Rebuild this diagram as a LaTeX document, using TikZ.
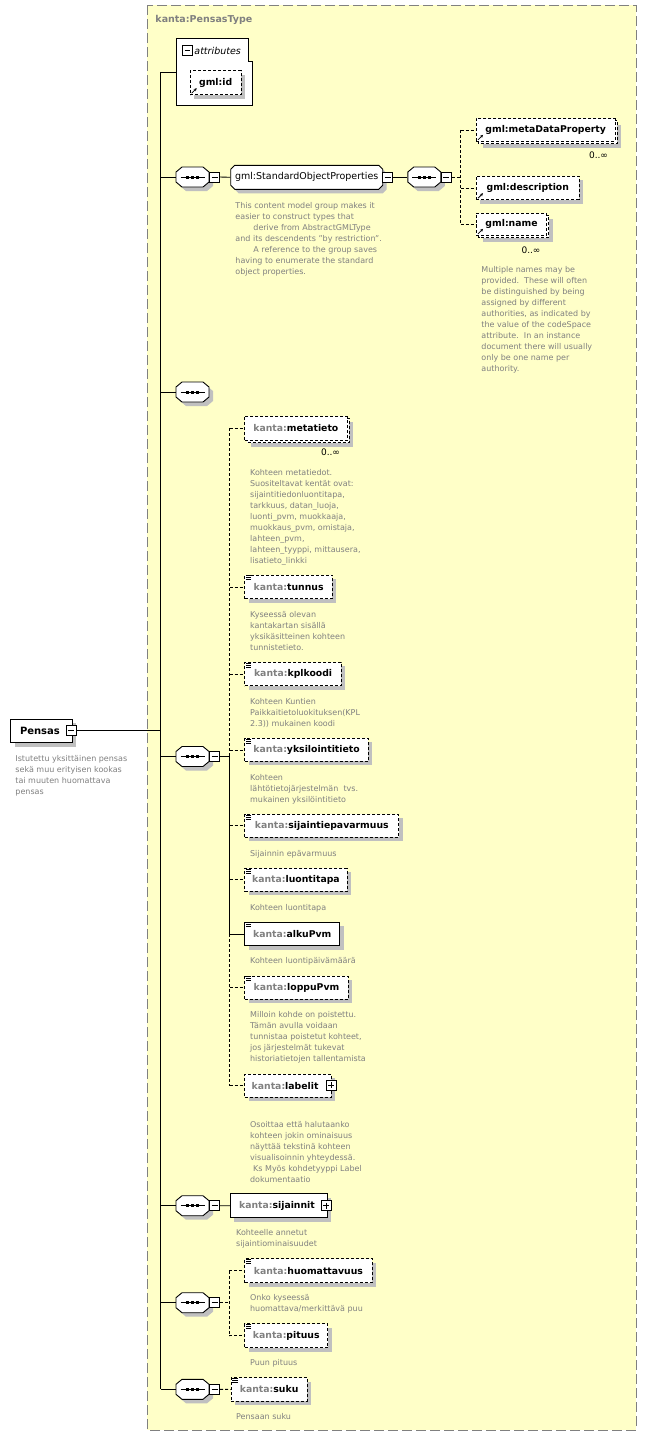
\documentclass[tikz,border=0pt]{standalone}
\usepackage{fontspec}
\setmainfont{DejaVu Sans}
\usetikzlibrary{shadows,arrows.meta}
\definecolor{bgyellow}{HTML}{FFFFC8}
\definecolor{shadowgray}{HTML}{C0C0C0}
\definecolor{descgray}{HTML}{808080}
\definecolor{pfxgray}{HTML}{808080}
\definecolor{framegray}{HTML}{808080}
\newcommand\lblfont{\fontsize{9.3}{11}\selectfont}
\newcommand\descfont{\fontsize{8}{11}\selectfont}
\newcommand\kp{{\color{pfxgray}kanta:}}
\newcommand\octa[1]{%
  \begin{scope}[shift={(#1.center)}]
    \fill[shadowgray] (-12.5,-1) -- (-6.5,-6) -- (14.5,-6) -- (20.5,-1) -- (20.5,9) -- (14.5,14) -- (-6.5,14) -- (-12.5,9) -- cycle;
    \draw[fill=white, line width=0.9pt] (-16.5,-5) -- (-10.5,-10) -- (10.5,-10) -- (16.5,-5) -- (16.5,5) -- (10.5,10) -- (-10.5,10) -- (-16.5,5) -- cycle;
    \draw[line width=0.9pt] (-12,0) -- (12,0);
    \fill (-6.5,-1.5) rectangle (-3.5,1.5);
    \fill (-1.5,-1.5) rectangle (1.5,1.5);
    \fill (3.5,-1.5) rectangle (6.5,1.5);
  \end{scope}}
\newcommand\seqat[2]{\node[seqhold] (#1) at (#2) {}; \octa{#1}}
\newcommand\refarrow[1]{\draw[line width=0.8pt, -{Stealth[length=3pt,width=3pt]}] ([shift={(2,-2)}]#1.south west) -- ([shift={(7,-7)}]#1.south west);}
\newcommand\stico[1]{%
  \draw[line width=0.7pt] ([shift={(1.5,1)}]#1.north west) -- ([shift={(7,1)}]#1.north west);
  \draw[line width=0.7pt] ([shift={(1.5,3)}]#1.north west) -- ([shift={(7,3)}]#1.north west);
  \draw[line width=0.7pt] ([shift={(1.5,5)}]#1.north west) -- ([shift={(7,5)}]#1.north west);}
\begin{document}
\begin{tikzpicture}[x=1pt,y=-1pt, line width=0.9pt,
  optl/.style={dash pattern=on 3pt off 2pt},
  elbox/.style={draw=black, fill=white, line width=0.9pt, inner sep=0pt, anchor=north west, font=\lblfont\bfseries},
  shad/.style={drop shadow={shadow xshift=4pt, shadow yshift=-4pt, opacity=1, fill=shadowgray}},
  desc/.style={anchor=north west, inner sep=0pt, align=left, font=\descfont, text=descgray},
  pmbox/.style={draw=black, fill=white, line width=0.8pt, minimum size=10pt, inner sep=0pt},
  minus/.style={pmbox, path picture={\draw[line width=0.8pt] ([xshift=2pt]path picture bounding box.west) -- ([xshift=-2pt]path picture bounding box.east);}},
  plus/.style={pmbox, path picture={\draw[line width=0.8pt] ([xshift=2pt]path picture bounding box.west) -- ([xshift=-2pt]path picture bounding box.east); \draw[line width=0.8pt] ([yshift=-2pt]path picture bounding box.north) -- ([yshift=2pt]path picture bounding box.south);}},
  seqhold/.style={minimum width=33pt, minimum height=20pt, inner sep=0pt},
  mult/.style={inner sep=0pt, font=\fontsize{9}{11}\selectfont}
]
\useasboundingbox (0,0) rectangle (646,1436);
\fill[white] (0,0) rectangle (646,1436);
\draw[framegray, fill=bgyellow, line width=1pt, dash pattern=on 10pt off 4pt] (147,5) rectangle (636,1430);
\node[anchor=west, inner sep=0pt, font=\fontsize{9.5}{11}\selectfont\bfseries, text=framegray] (title) at (155,19.5) {kanta:PensasType};

% attributes
\draw[fill=white, line width=0.9pt] (176,38) -- (248,38) -- (248,61) -- (252,61) -- (252,105) -- (176,105) -- cycle;
\node[minus, minimum size=9.5pt] (attrm) at (187.3,50.5) {};
\node[anchor=west, inner sep=0pt, font=\fontsize{9.5}{11}\selectfont\itshape] (attrl) at (194,50.5) {attributes};
\coordinate (attrw) at (176,72);
\node[elbox, optl, shad, minimum width=51pt, minimum height=24pt] (gmlid) at (189.7,70.3) {gml:id};
\refarrow{gmlid}

% Pensas
\node[elbox, shad, minimum width=61.4pt, minimum height=23.6pt, font=\fontsize{10}{11}\selectfont\bfseries] (pensas) at (10.3,718.7) {Pensas\hspace*{3pt}};
\node[minus] (pensasm) at (71.3,730.3) {};
\node[desc] (pensasd) at (15,755) {Istutettu yksittäinen pensas\\sekä muu erityisen kookas\\tai muuten huomattava\\pensas};

% trunk
\coordinate (tr) at (160.7,72);
\coordinate (trb) at (160.7,1389.3);

% StandardObjectProperties branch
\seqat{seqA}{192.5,177}
\node[minus] (seqAm) at (214.7,177) {};
\fill[shadowgray] (234.7,173.3) -- (238.7,169.3) -- (382.7,169.3) -- (386.7,173.3) -- (386.7,189.3) -- (382.7,193.3) -- (238.7,193.3) -- (234.7,189.3) -- cycle;
\draw[fill=white, line width=0.9pt] (230.7,169.3) -- (234.7,165.3) -- (378.7,165.3) -- (382.7,169.3) -- (382.7,185.3) -- (378.7,189.3) -- (234.7,189.3) -- (230.7,185.3) -- cycle;
\node[inner sep=0pt, minimum width=152pt, minimum height=24pt, font=\fontsize{9.5}{11}\selectfont] (sop) at (306.7,177.3) {gml:StandardObjectProperties};
\node[minus] (sopm) at (387.7,177) {};
\node[desc] (sopd) at (235,202) {This content model group makes it\\easier to construct types that\\\hspace*{18pt}derive from AbstractGMLType\\and its descendents "by restriction".\\\hspace*{18pt}A reference to the group saves\\having to enumerate the standard\\object properties.};
\seqat{seqB}{424.3,177}
\node[minus] (seqBm) at (446.3,177) {};
\coordinate (chB) at (460.7,177);

\draw[optl, fill=white, shad] (478.5,120.5) rectangle (617,143.5);
\node[elbox, optl, minimum width=138.5pt, minimum height=23pt] (mdp) at (476,118) {gml:metaDataProperty};
\refarrow{mdp}
\node[mult] (mdpm) at (598.5,155.7) {0..∞};
\node[elbox, optl, shad, minimum width=102.7pt, minimum height=23.6pt] (gdesc) at (476,175.7) {gml:description};
\refarrow{gdesc}
\draw[optl, fill=white, shad] (478.5,215.2) rectangle (548.7,237.5);
\node[elbox, optl, minimum width=70.2pt, minimum height=22.3pt] (gname) at (476,212.7) {gml:name};
\refarrow{gname}
\node[mult] (gnamem) at (531,250) {0..∞};
\node[desc] (gnamed) at (481,266) {Multiple names may be\\provided.\ \ These will often\\be distinguished by being\\assigned by different\\authorities, as indicated by\\the value of the codeSpace\\attribute.\ \ In an instance\\document there will usually\\only be one name per\\authority.};

% empty sequence
\seqat{seqE}{192.5,392}

% main sequence
\seqat{seqM}{192.5,756.5}
\node[minus] (seqMm) at (214.7,756.5) {};
\coordinate (chM) at (229.7,756.5);

\draw[optl, fill=white, shad] (246.8,418.2) rectangle (349,442.5);
\node[elbox, optl, minimum width=102.2pt, minimum height=24.3pt] (meta) at (244.3,415.7) {\kp metatieto};
\node[mult] (metam) at (330.5,452.7) {0..∞};
\node[desc] (metad) at (249.7,469) {Kohteen metatiedot.\\Suositeltavat kentät ovat:\\sijaintitiedonluontitapa,\\tarkkuus, datan\_luoja,\\luonti\_pvm, muokkaaja,\\muokkaus\_pvm, omistaja,\\lahteen\_pvm,\\lahteen\_tyyppi, mittausera,\\lisatieto\_linkki};

\node[elbox, optl, shad, minimum width=87.7pt, minimum height=23.6pt] (tunnus) at (244.3,574.7) {\kp tunnus};
\stico{tunnus}
\node[desc] (tunnusd) at (249.7,611) {Kyseessä olevan\\kantakartan sisällä\\yksikäsitteinen kohteen\\tunnistetieto.};

\node[elbox, optl, shad, minimum width=96.7pt, minimum height=23.3pt] (kpl) at (244.3,662) {\kp kplkoodi};
\stico{kpl}
\node[desc] (kpld) at (249.7,698) {Kohteen Kuntien\\Paikkaitietoluokituksen(KPL\\2.3)) mukainen koodi};

\node[elbox, optl, shad, minimum width=123.7pt, minimum height=23pt] (yks) at (244.3,738) {\kp yksilointitieto};
\stico{yks}
\node[desc] (yksd) at (249.7,774) {Kohteen\\lähtötietojärjestelmän\ \ tvs.\\mukainen yksilöintitieto};

\node[elbox, optl, shad, minimum width=154pt, minimum height=22.7pt] (sij) at (244.3,814) {\kp sijaintiepavarmuus};
\stico{sij}
\node[desc] (sijd) at (249.7,850) {Sijainnin epävarmuus};

\node[elbox, optl, shad, minimum width=102.4pt, minimum height=22.7pt] (luo) at (244.3,868) {\kp luontitapa};
\stico{luo}
\node[desc] (luod) at (249.7,904) {Kohteen luontitapa};

\node[elbox, shad, minimum width=95pt, minimum height=23.6pt] (alku) at (244.3,921.7) {\kp alkuPvm};
\stico{alku}
\node[desc] (alkud) at (249.7,957.3) {Kohteen luontipäivämäärä};

\node[elbox, optl, shad, minimum width=103.4pt, minimum height=23.3pt] (loppu) at (244.3,975.7) {\kp loppuPvm};
\stico{loppu}
\node[desc] (loppud) at (249.7,1011.3) {Milloin kohde on poistettu.\\Tämän avulla voidaan\\tunnistaa poistetut kohteet,\\jos järjestelmät tukevat\\historiatietojen tallentamista};

\node[elbox, optl, shad, minimum width=86.7pt, minimum height=22.7pt] (lab) at (244.3,1074) {\kp labelit\hspace*{6pt}};
\node[plus] (labm) at (331,1085.3) {};
\node[desc] (labd) at (249.7,1121) {Osoittaa että halutaanko\\kohteen jokin ominaisuus\\näyttää tekstinä kohteen\\visualisoinnin yhteydessä.\\\hspace*{3pt}Ks Myös kohdetyyppi Label\\dokumentaatio};

% sijainnit
\seqat{seqS}{192.5,1205.7}
\node[minus] (seqSm) at (214.7,1205.7) {};
\node[elbox, shad, minimum width=97pt, minimum height=24pt] (sijn) at (230,1193.3) {\kp sijainnit\hspace*{4pt}};
\node[plus] (sijnm) at (326.3,1205.7) {};
\node[desc] (sijnd) at (235.7,1229.3) {Kohteelle annetut\\sijaintiominaisuudet};

% huomattavuus / pituus
\seqat{seqH}{192.5,1302.7}
\node[minus] (seqHm) at (214.7,1302.7) {};
\coordinate (chH) at (229.3,1302.7);
\node[elbox, optl, shad, minimum width=127.4pt, minimum height=24pt] (huom) at (244.3,1258.3) {\kp huomattavuus};
\stico{huom}
\node[desc] (huomd) at (249.7,1294.3) {Onko kyseessä\\huomattava/merkittävä puu};
\node[elbox, optl, shad, minimum width=83pt, minimum height=24pt] (pit) at (244.3,1323.3) {\kp pituus};
\stico{pit}
\node[desc] (pitd) at (249.7,1359.3) {Puun pituus};

% suku
\seqat{seqK}{192.5,1389.3}
\node[minus] (seqKm) at (214.7,1389.3) {};
\node[elbox, optl, shad, minimum width=76pt, minimum height=23.4pt] (suku) at (230.7,1377.3) {\kp suku};
\stico{suku}
\node[desc] (sukud) at (235.7,1413.3) {Pensaan suku};

% connectors
\draw (tr) -- (trb);
\draw (tr) -- (attrw);
\draw (pensasm.east) -- (pensasm.east -| tr);
\draw (seqA.west -| tr) -- (seqA.west);
\draw (seqE.west -| tr) -- (seqE.west);
\draw (seqM.west -| tr) -- (seqM.west);
\draw (seqS.west -| tr) -- (seqS.west);
\draw (seqH.west -| tr) -- (seqH.west);
\draw (seqK.west -| tr) -- (seqK.west);

\draw (seqAm.east) -- (sop.west);
\draw (sopm.east) -- (seqB.west);
\draw[optl] (seqBm.east) -- (chB);
\draw[optl] (chB |- mdp.west) -- (chB |- gname.west);
\draw[optl] (chB |- mdp.west) -- (mdp.west);
\draw[optl] (chB |- gdesc.west) -- (gdesc.west);
\draw[optl] (chB |- gname.west) -- (gname.west);

\draw (seqMm.east) -- (chM);
\draw[optl] (chM |- meta.west) -- (chM);
\draw (chM) -- (chM |- alku.west);
\draw[optl] (chM |- alku.west) -- (chM |- lab.west);
\draw[optl] (chM |- meta.west) -- (meta.west);
\draw[optl] (chM |- tunnus.west) -- (tunnus.west);
\draw[optl] (chM |- kpl.west) -- (kpl.west);
\draw[optl] (chM |- yks.west) -- (yks.west);
\draw[optl] (chM |- sij.west) -- (sij.west);
\draw[optl] (chM |- luo.west) -- (luo.west);
\draw (chM |- alku.west) -- (alku.west);
\draw[optl] (chM |- loppu.west) -- (loppu.west);
\draw[optl] (chM |- lab.west) -- (lab.west);

\draw (seqSm.east) -- (sijn.west);

\draw[optl] (seqHm.east) -- (chH);
\draw[optl] (chH |- huom.west) -- (chH |- pit.west);
\draw[optl] (chH |- huom.west) -- (huom.west);
\draw[optl] (chH |- pit.west) -- (pit.west);

\draw[optl] (seqKm.east) -- (suku.west);
\end{tikzpicture}
\end{document}
